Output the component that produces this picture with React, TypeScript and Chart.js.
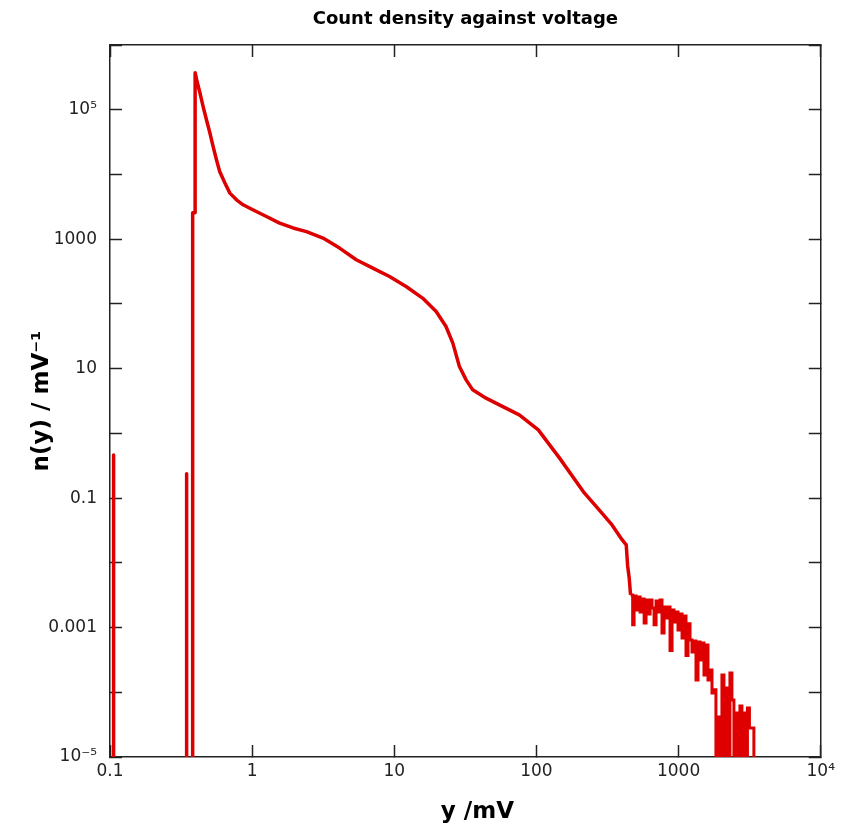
import React, { useEffect, useRef } from 'react';
import { Chart, registerables } from 'chart.js';

Chart.register(...registerables);

const chartTitle = 'Count density against voltage';
const xAxisTitle = '   y /mV';
const yAxisTitle = 'n(y) / mV⁻¹';

const xTickValues = [0.1, 1, 10, 100, 1000, 10000];
const xTickLabels = ['0.1', '1', '10', '100', '1000', '10⁴'];
const yTickValues = [1e-5, 1e-4, 1e-3, 1e-2, 0.1, 1, 10, 100, 1000, 1e4, 1e5, 1e6];
const yTickLabels = ['10⁻⁵', '', '0.001', '', '0.1', '', '10', '', '1000', '', '10⁵', ''];

// empty bins (drawn below the axis floor)
const ZERO = 1e-9;

// low-voltage spikes and main curve: voltage (mV) and count density (per mV)
const curveX = [
  0.106, 0.106, 0.344, 0.344, 0.347, 0.347, 0.3815, 0.3815, 0.397, 0.397,
  0.41, 0.429, 0.452, 0.477, 0.504, 0.531, 0.561, 0.591, 0.643, 0.697,
  0.776, 0.863, 1.01, 1.26, 1.56, 1.94, 2.41, 3.15, 4.12, 5.4,
  7.06, 9.25, 12.1, 15.8, 19.7, 23.1, 25.8, 28.7, 32.0, 35.6,
  44.2, 54.8, 75.7, 103, 145, 217, 276, 340, 401, 428,
  438, 449, 459,
];
const curveY = [
  0.465, ZERO, ZERO, 0.237, 0.237, ZERO, ZERO, 2550, 2550, 3.73e5,
  2.7e5, 1.83e5, 1.12e5, 7.0e4, 4.41e4, 2.71e4, 1.69e4, 1.11e4, 7360, 5150,
  4060, 3400, 2850, 2240, 1770, 1490, 1310, 1040, 728, 481,
  357, 265, 186, 123, 76.3, 44.8, 24.8, 10.8, 6.71, 4.7,
  3.5, 2.75, 1.93, 1.13, 0.418, 0.12, 0.0657, 0.0385, 0.0226, 0.0189,
  0.00895, 0.00585, 0.00319,
];

// high-voltage noisy tail: histogram bins (left edge in mV, density)
const tailX = [
  459, 475, 486, 502, 519, 536, 553, 572, 590, 610,
  630, 650, 672, 694, 717, 740, 764, 790, 816, 842,
  870, 899, 928, 959, 990, 1023, 1057, 1091, 1127, 1164,
  1203, 1242, 1283, 1325, 1369, 1414, 1460, 1508, 1558, 1609,
  1662, 1717, 1773, 1830, 1891, 1953, 2017, 2084, 2152, 2223,
  2296, 2371, 2449, 2530, 2613, 2699, 2788, 2879, 2974, 3048,
  3148, 3384, 10000,
];
const tailY = [
  3.19e-3, 1.1e-3, 3.08e-3, 1.87e-3, 2.97e-3, 1.74e-3, 2.77e-3, 1.18e-3, 2.67e-3, 1.62e-3,
  2.67e-3, 2.01e-3, 1.1e-3, 2.58e-3, 1.74e-3, 2.67e-3, 8.26e-4, 2.08e-3, 1.41e-3, 2.08e-3,
  4.43e-4, 1.87e-3, 1.22e-3, 1.74e-3, 9.18e-4, 1.62e-3, 6.9e-4, 1.51e-3, 3.71e-4, 1.14e-3,
  6.43e-4, 4.2e-4, 6.21e-4, 1.55e-4, 5.99e-4, 3.16e-4, 5.78e-4, 1.85e-4, 5.38e-4, 1.55e-4,
  2.21e-4, 9.75e-5, 1.09e-4, ZERO, 4.15e-5, ZERO, 1.85e-4, ZERO, 1.16e-4, ZERO,
  1.99e-4, 7.6e-5, ZERO, 4.79e-5, ZERO, 6.14e-5, ZERO, 4.79e-5, ZERO, 5.71e-5,
  2.81e-5, ZERO, ZERO,
];

const LINE_COLOR = '#de0000';
const AXIS_COLOR = '#222222';
const FONT = 'DejaVu Sans';

export default function App() {
  const ref = useRef<HTMLCanvasElement | null>(null);

  useEffect(() => {
    if (!ref.current) return;
    const grid = {
      drawOnChartArea: false,
      drawTicks: true,
      tickLength: -12,
      tickWidth: 1.5,
      tickColor: AXIS_COLOR,
    };
    const border = { display: true, color: AXIS_COLOR, width: 1.5 };
    const xTicksFn = (s: any) => {
      s.ticks = xTickValues.map((v) => ({ value: v }));
    };
    const yTicksFn = (s: any) => {
      s.ticks = yTickValues.map((v) => ({ value: v }));
    };
    const chart = new Chart(ref.current, {
      type: 'line',
      data: {
        datasets: [
          {
            data: curveX.map((x, i) => ({ x, y: curveY[i] })),
            borderColor: LINE_COLOR,
            borderWidth: 3.5,
            borderJoinStyle: 'round',
            pointRadius: 0,
            tension: 0,
            fill: false,
          },
          {
            data: tailX.map((x, i) => ({ x, y: tailY[i] })),
            borderColor: LINE_COLOR,
            borderWidth: 3,
            pointRadius: 0,
            stepped: 'before',
            fill: false,
          },
        ],
      },
      options: {
        animation: false,
        responsive: false,
        events: [],
        layout: { padding: 0 },
        plugins: {
          legend: { display: false },
          tooltip: { enabled: false },
          title: { display: false },
        },
        scales: {
          x: {
            type: 'logarithmic',
            position: 'bottom',
            min: 0.1,
            max: 10000,
            z: 1,
            afterBuildTicks: xTicksFn,
            afterFit: (s: any) => {
              s.height = 72;
            },
            ticks: {
              callback: (_v: any, i: number) => xTickLabels[i],
              autoSkip: false,
              maxRotation: 0,
              padding: 16,
              color: AXIS_COLOR,
              font: { family: FONT, size: 17 },
            },
            grid,
            border,
            title: {
              display: true,
              text: xAxisTitle,
              color: '#000',
              font: { family: FONT, size: 23, weight: 'bold' },
              padding: { top: 0, bottom: 3 },
            },
          },
          x2: {
            type: 'logarithmic',
            position: 'top',
            min: 0.1,
            max: 10000,
            z: 1,
            afterBuildTicks: xTicksFn,
            afterFit: (s: any) => {
              s.height = 45;
            },
            ticks: { display: false },
            grid,
            border,
            title: {
              display: true,
              text: chartTitle,
              color: '#000',
              font: { family: FONT, size: 18, weight: 'bold' },
              padding: { top: 9, bottom: 0 },
            },
          },
          y: {
            type: 'logarithmic',
            position: 'left',
            min: 1e-5,
            max: 1e6,
            z: 1,
            afterBuildTicks: yTicksFn,
            afterFit: (s: any) => {
              s.width = 110;
            },
            ticks: {
              callback: (_v: any, i: number) => yTickLabels[i],
              autoSkip: false,
              padding: 25,
              color: AXIS_COLOR,
              font: { family: FONT, size: 17 },
            },
            grid,
            border,
            title: {
              display: true,
              text: yAxisTitle,
              color: '#000',
              font: { family: FONT, size: 23, weight: 'bold' },
              padding: { top: 28, bottom: 0 },
            },
          },
          y2: {
            type: 'logarithmic',
            position: 'right',
            min: 1e-5,
            max: 1e6,
            z: 1,
            afterBuildTicks: yTicksFn,
            afterFit: (s: any) => {
              s.width = 29;
            },
            ticks: { display: false },
            grid,
            border,
          },
        },
      } as any,
    });
    return () => chart.destroy();
  }, []);

  return (
    <div style={{ position: 'absolute', left: 0, top: 0, width: 851, height: 829, background: '#fff' }}>
      <canvas ref={ref} width={851} height={829} style={{ display: 'block' }} />
    </div>
  );
}
